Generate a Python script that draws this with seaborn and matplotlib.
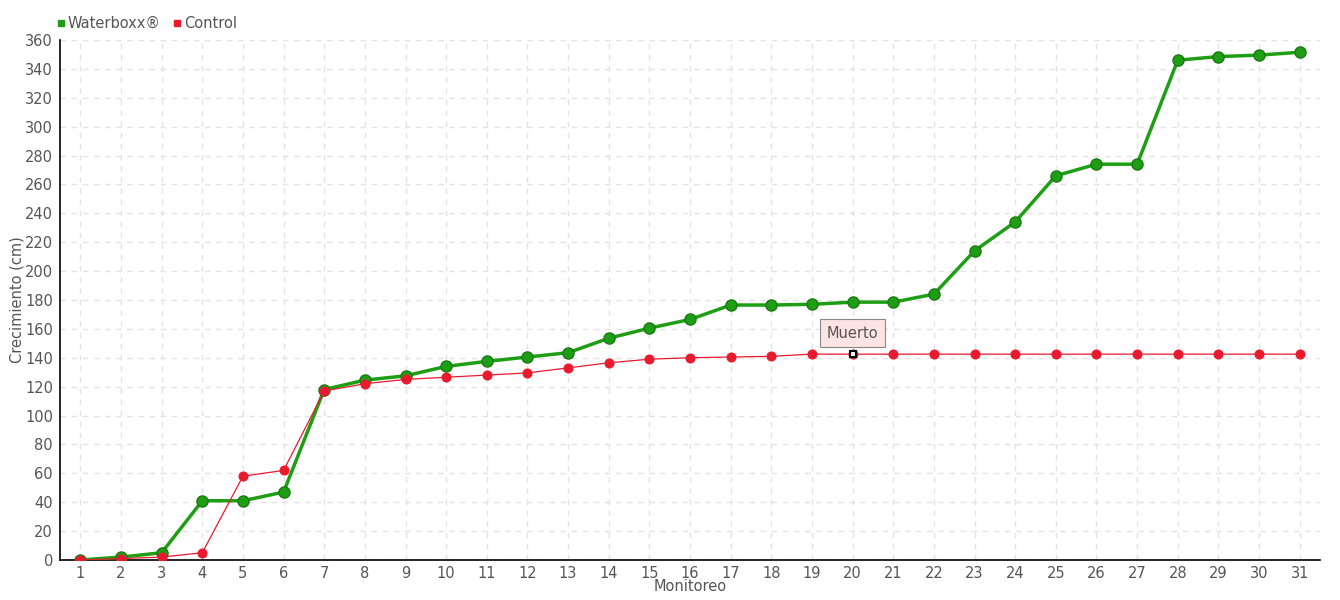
import matplotlib
matplotlib.use("Agg")
import matplotlib.pyplot as plt
from matplotlib.lines import Line2D
import seaborn as sns
import pandas as pd
import numpy as np

monitoreo = list(range(1, 32))
waterboxx = [0, 2, 5, 41, 41, 47, 118, 124.5, 127.5, 134, 137.5, 140.5, 143.5, 153.5,
             160.5, 166.5, 176.5, 176.5, 177, 178.5, 178.5, 184, 214, 234, 266, 274,
             274, 346, 348.5, 349.5, 351.5]
control = [0, 1, 2, 5, 58, 62, 117, 122, 125, 126.5, 128, 129.5, 133, 136.5, 139,
           140, 140.5, 141, 142.5, 142.5, 142.5, 142.5, 142.5, 142.5, 142.5, 142.5,
           142.5, 142.5, 142.5, 142.5, 142.5]
tooltip_idx = 19
tooltip_text = "Muerto"

green = "#1e9e14"
red = "#ea1a2e"
txt = "#555555"

sns.set_style("white")
plt.rcParams["font.family"] = ["DejaVu Sans"]

df = pd.DataFrame({"Monitoreo": monitoreo, "Waterboxx®": waterboxx, "Control": control})

fig = plt.figure(figsize=(13.4, 6), dpi=100)
ax = fig.add_axes([0.0448, 0.0667, 0.9403, 0.8667])

sns.lineplot(data=df, x="Monitoreo", y="Waterboxx®", ax=ax, color=green, linewidth=2.5,
             marker="o", markersize=8, markeredgecolor="#1a7a12", markeredgewidth=1, zorder=3)
sns.lineplot(data=df, x="Monitoreo", y="Control", ax=ax, color=red, linewidth=0.9,
             marker="o", markersize=6.5, markeredgecolor=red, zorder=4)

# dead marker
ax.plot(monitoreo[tooltip_idx], control[tooltip_idx], marker="s", markersize=4.5,
        markerfacecolor="white", markeredgecolor="black", markeredgewidth=1.5, zorder=6)
ax.annotate(tooltip_text, (monitoreo[tooltip_idx], control[tooltip_idx]),
            xytext=(0, 15), textcoords="offset points", ha="center", va="center",
            fontsize=10.5, color=txt, zorder=7,
            bbox=dict(boxstyle="square,pad=0.45", fc="#fde4e4", ec="#888888", lw=0.8))

ax.set_xlim(0.5, 31.5)
ax.set_ylim(0, 360)
ax.set_xticks(monitoreo)
ax.set_yticks(np.arange(0, 361, 20))
ax.grid(True, color="#e3e3e3", linestyle=(0, (4, 4)), linewidth=1)
ax.set_axisbelow(True)
for s in ["top", "right"]:
    ax.spines[s].set_visible(False)
for s in ["left", "bottom"]:
    ax.spines[s].set_color("black")
    ax.spines[s].set_linewidth(1.2)
ax.tick_params(axis="y", direction="inout", length=6, width=1.2, colors="black",
               labelcolor=txt, labelsize=10.5, pad=2)
ax.tick_params(axis="x", direction="out", length=4, width=1, colors="black",
               labelcolor=txt, labelsize=10.5, pad=0)
ax.set_xlabel("Monitoreo", fontsize=10.5, color=txt, labelpad=-1)
ax.set_ylabel("Crecimiento (cm)", fontsize=10.5, color=txt, labelpad=0)

handles = [Line2D([], [], marker="s", linestyle="", color=green, markersize=5),
           Line2D([], [], marker="s", linestyle="", color=red, markersize=5)]
fig.legend(handles, ["Waterboxx®", "Control"], loc="upper left", bbox_to_anchor=(0.03, 0.995),
           ncol=2, frameon=False, fontsize=10.5, handletextpad=0.0, columnspacing=0.6,
           labelcolor=txt, handlelength=1)

fig.savefig("out.png", dpi=100)
